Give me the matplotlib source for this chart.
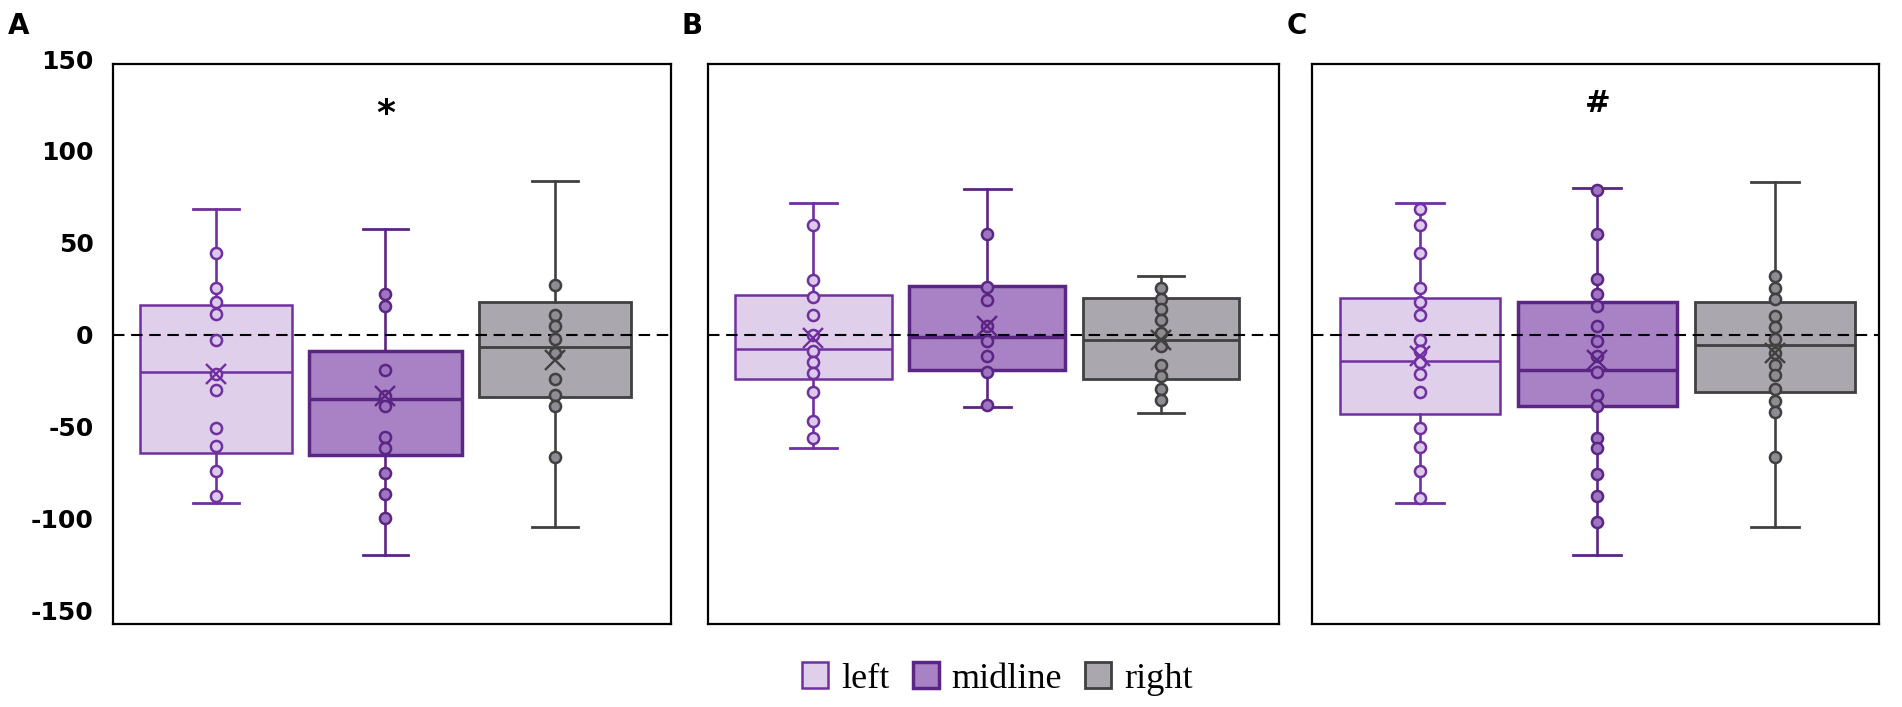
import matplotlib
matplotlib.use("Agg")
import matplotlib.pyplot as plt
import matplotlib.patches as mpatches
import numpy as np

# ---------------- data ----------------
groups = ["left", "midline", "right"]
panels = ["A", "B", "C"]
panel_marks = ["*", "", "#"]

# box statistics per panel: [left, midline, right]
A_whislo = [-91.3, -119.6, -104.4]
A_q1     = [-64.1, -65.4, -34.1]
A_med    = [-20.3, -34.9, -6.9]
A_q3     = [16.0, -9.1, 18.0]
A_whishi = [68.5, 57.5, 83.9]
A_mean   = [-21.2, -33.6, -13.6]
A_left_pts  = [44.5, 25.4, 17.8, 11.1, -2.9, -21.2, -30.3, -50.8, -60.3, -74.4, -88.0]
A_mid_pts   = [22.2, 15.8, -19.1, -33.6, -38.7, -55.7, -61.7, -75.0, -86.6, -99.9]
A_right_pts = [26.9, 10.9, 4.5, -2.2, -10.0, -24.0, -32.7, -39.0, -66.8]

B_whislo = [-61.4, -39.4, -42.8]
B_q1     = [-24.1, -19.1, -24.1]
B_med    = [-7.6, -1.3, -2.9]
B_q3     = [21.8, 26.7, 20.0]
B_whishi = [71.5, 79.5, 32.1]
B_mean   = [-1.8, 4.9, -3.0]
B_left_pts  = [59.9, 29.6, 20.7, 10.9, -0.4, -9.1, -15.1, -20.9, -30.9, -47.2, -56.3]
B_mid_pts   = [55.0, 25.8, 18.7, 4.9, -3.6, -11.8, -20.5, -38.1]
B_right_pts = [25.4, 19.4, 14.0, 8.2, 0.9, -6.4, -16.3, -22.2, -29.4, -35.4]

C_whislo = [-91.7, -119.6, -104.4]
C_q1     = [-43.4, -38.7, -31.4]
C_med    = [-14.3, -19.1, -5.6]
C_q3     = [20.0, 17.8, 17.8]
C_whishi = [71.4, 79.7, 83.2]
C_mean   = [-11.8, -13.6, -10.0]
C_left_pts  = [68.6, 59.7, 44.5, 25.2, 17.6, 10.9, -3.1, -9.1, -15.1, -21.2, -30.9,
               -50.8, -61.2, -74.4, -88.6]
C_mid_pts   = [79.0, 55.0, 30.3, 22.1, 15.8, 4.9, -3.6, -11.4, -20.5, -32.7, -39.0,
               -56.3, -61.7, -75.9, -87.5, -101.9]
C_right_pts = [32.1, 25.4, 19.4, 10.3, 4.2, -2.4, -10.0, -16.3, -21.8, -29.6, -35.8,
               -42.3, -66.6]

y_ticks = [-150, -100, -50, 0, 50, 100, 150]
y_tick_labels = ["-150", "-100", "-50", "0", "50", "100", "150"]
mark_values = [120, 0, 126]

# ---------------- styles ----------------
face_cols = ["#DFCFEB", "#A882C5", "#ABA7AF"]
edge_cols = ["#7030A0", "#5B2583", "#404040"]
pt_face = ["#DCCAEA", "#9F74C0", "#8F8B93"]
box_lw = [1.8, 2.5, 2.0]

panel_data = {
    "A": (A_whislo, A_q1, A_med, A_q3, A_whishi, A_mean, [A_left_pts, A_mid_pts, A_right_pts]),
    "B": (B_whislo, B_q1, B_med, B_q3, B_whishi, B_mean, [B_left_pts, B_mid_pts, B_right_pts]),
    "C": (C_whislo, C_q1, C_med, C_q3, C_whishi, C_mean, [C_left_pts, C_mid_pts, C_right_pts]),
}

W, H = 1902, 707
fig = plt.figure(figsize=(W / 100, H / 100), dpi=100)

# panel frames in pixels (left, right), shared top/bottom
frames = {"A": (113, 671), "B": (708, 1279), "C": (1312, 1879)}
xlims = {"A": (-0.608, 2.686), "B": (-0.607, 2.679), "C": (-0.608, 2.586)}
top_px, bot_px = 64, 624
ylim = (-157.4, 147.3)
letter_x = {"A": 8, "B": 682, "C": 1287}

axes = {}
for p, mark, mv in zip(panels, panel_marks, mark_values):
    l, r = frames[p]
    ax = fig.add_axes([l / W, 1 - bot_px / H, (r - l) / W, (bot_px - top_px) / H])
    axes[p] = ax
    whislo, q1, med, q3, whishi, mean, pts = panel_data[p]
    for i in range(3):
        stats = [dict(whislo=whislo[i], q1=q1[i], med=med[i], q3=q3[i], whishi=whishi[i])]
        ax.bxp(stats, positions=[i], widths=0.9, patch_artist=True, showfliers=False,
               showmeans=False, capwidths=0.27,
               boxprops=dict(facecolor=face_cols[i], edgecolor=edge_cols[i], linewidth=box_lw[i]),
               medianprops=dict(color=edge_cols[i], linewidth=box_lw[i]),
               whiskerprops=dict(color=edge_cols[i], linewidth=1.9),
               capprops=dict(color=edge_cols[i], linewidth=2.0),
               manage_ticks=False, zorder=2)
        ax.plot(np.full(len(pts[i]), i), pts[i], "o", ls="none", ms=8,
                mfc=pt_face[i], mec=edge_cols[i], mew=1.8, zorder=5)
        ax.plot([i], [mean[i]], "x", ls="none", ms=15, mec=edge_cols[i], mew=1.7, zorder=6)
    ax.axhline(0, color="black", lw=1.5, ls=(0, (5.5, 3.2)), zorder=4)
    ax.set_xlim(*xlims[p])
    ax.set_ylim(*ylim)
    ax.set_xticks([])
    ax.set_yticks([])
    for s in ax.spines.values():
        s.set_linewidth(1.6)
        s.set_color("black")
    if mark:
        ax.text(1, mv, mark, ha="center", va="center", fontsize=26 if mark == "*" else 22,
                fontweight="bold", family="DejaVu Sans", zorder=7)
    fig.text(letter_x[p] / W, 1 - 34 / H, p, fontsize=20, fontweight="bold",
             family="DejaVu Sans", ha="left", va="baseline")

# y tick labels for panel A on a helper axis sharing the same vertical scale
axA = axes["A"]
posA = axA.get_position()
y0, y1 = ylim
lab_lo, lab_hi = -165, 165
def fy(v):
    return posA.y0 + posA.height * (v - y0) / (y1 - y0)
lab_ax = fig.add_axes([posA.x0, fy(lab_lo), posA.width, fy(lab_hi) - fy(lab_lo)])
lab_ax.set_ylim(lab_lo, lab_hi)
lab_ax.set_yticks(y_ticks)
lab_ax.set_yticklabels(y_tick_labels, fontsize=18, fontweight="bold", family="DejaVu Sans")
lab_ax.tick_params(axis="y", length=0, pad=14)
lab_ax.set_xticks([])
lab_ax.patch.set_visible(False)
for s in lab_ax.spines.values():
    s.set_visible(False)
lab_ax.set_zorder(-1)

# legend
handles = [mpatches.Patch(facecolor=face_cols[i], edgecolor=edge_cols[i],
                          linewidth=box_lw[i], label=groups[i]) for i in range(3)]
fig.legend(handles=handles, loc="center", bbox_to_anchor=(997.5 / W, 1 - 679 / H),
           ncol=3, frameon=False, prop=dict(family="Liberation Serif", size=26),
           handlelength=0.72, handleheight=0.72, handletextpad=0.35,
           columnspacing=0.65, borderaxespad=0)

fig.savefig("out.png", dpi=100)
